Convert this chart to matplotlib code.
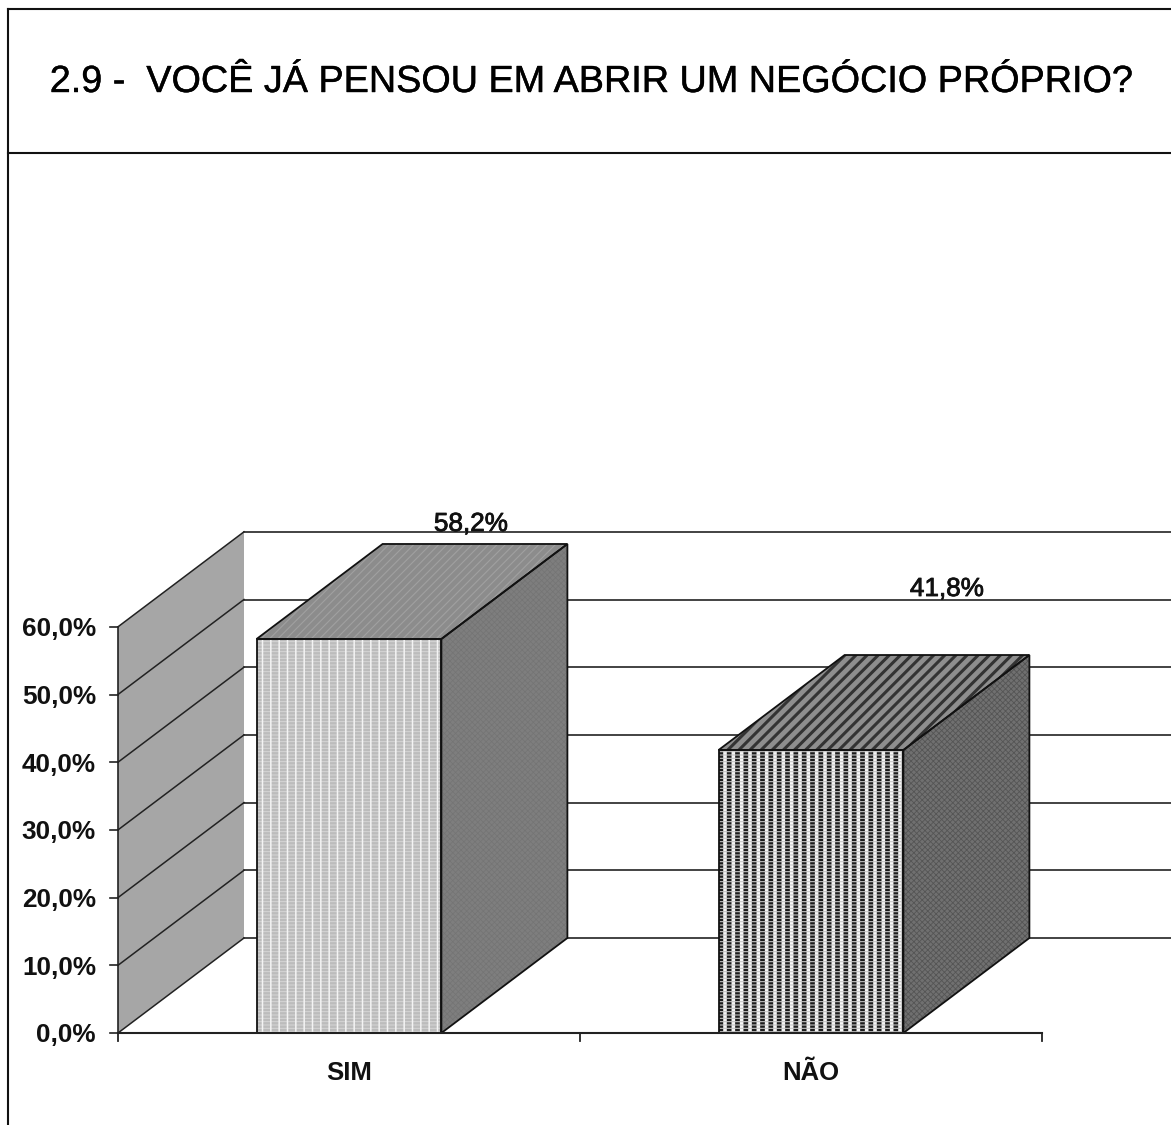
import matplotlib
matplotlib.use("Agg")
import matplotlib.pyplot as plt
import matplotlib.patheffects as pe
from matplotlib.patches import Polygon
from matplotlib.lines import Line2D

plt.rcParams['font.family'] = ['Liberation Sans', 'DejaVu Sans']

TITLE = "2.9 -  VOCÊ JÁ PENSOU EM ABRIR UM NEGÓCIO PRÓPRIO?"
categories = ["SIM", "NÃO"]
values = [58.2, 41.8]
value_labels = ["58,2%", "41,8%"]
y_ticks = [0, 10, 20, 30, 40, 50, 60]
y_tick_labels = ["0,0%", "10,0%", "20,0%", "30,0%", "40,0%", "50,0%", "60,0%"]

W, H = 1171, 1125
PX_CAT = 462.0     # pixels for one category
PX_PCT = 6.77      # pixels for one percent
X0, Y0 = 118, 1033 # pixel position of the chart origin
DX = 126 / PX_CAT  # 3d depth in data units
DY = 95 / PX_PCT
BAR_W = 0.4

fig = plt.figure(figsize=(W / 100, H / 100), dpi=100, facecolor="white")
ax = fig.add_axes([0, 0, 1, 1])
ax.set_xlim(-X0 / PX_CAT, (W - X0) / PX_CAT)
ax.set_ylim((Y0 - H) / PX_PCT, Y0 / PX_PCT)
ax.axis("off")


def face(pts, base, hatches=(), z=3):
    ax.add_patch(Polygon(pts, closed=True, facecolor=base, edgecolor="none", zorder=z))
    for hatch, color, lw in hatches:
        plt.rcParams['hatch.linewidth'] = lw
        ax.add_patch(Polygon(pts, closed=True, facecolor="none", edgecolor=color,
                             hatch=hatch, linewidth=0, zorder=z))
    ax.add_patch(Polygon(pts, closed=True, facecolor="none", edgecolor="#111111",
                         linewidth=1.3, zorder=z + 0.5))


# side wall and grid
top = y_ticks[-1]
ax.add_patch(Polygon([(0, 0), (DX, DY), (DX, top + DY), (0, top)], closed=True,
                     facecolor="#a6a6a6", edgecolor="none", zorder=1))
for t, lab in zip(y_ticks, y_tick_labels):
    ax.plot([0, DX], [t, t + DY], color="#222222", lw=1.1, zorder=2)
    ax.plot([DX, (W - X0) / PX_CAT], [t + DY, t + DY], color="#222222", lw=1.2, zorder=2)
    ax.plot([-8 / PX_CAT, 0], [t, t], color="#222222", lw=1.2, zorder=2)
    ax.text(-22 / PX_CAT, t - 0.35, lab, ha="right", va="center",
            fontsize=18.8, fontweight="bold", color="#111111")
ax.plot([0, 0], [0, top], color="#222222", lw=1.2, zorder=2)

# floor axis
ax.plot([0, len(categories)], [0, 0], color="#222222", lw=1.5, zorder=6)
for i in range(len(categories) + 1):
    ax.plot([i, i], [0, -8 / PX_PCT], color="#222222", lw=1.3, zorder=6)

front_styles = [
    ("#bcbcbc", [("-----", "#d6d6d6", 0.7), ("||", "#f4f4f4", 1.1)]),
    ("#f6f6f6", [("||", "#1c1c1c", 3.4), ("-----", "#c4c4c4", 0.8)]),
]
top_styles = [
    ("#8c8c8c", [("////", "#a0a0a0", 0.8)]),
    ("#8e8e8e", [("///", "#333333", 2.2)]),
]
side_styles = [
    ("#7e7e7e", [("xxxxxx", "#747474", 0.5)]),
    ("#707070", [("xxxxxx", "#555555", 0.6)]),
]

for i, v in enumerate(values):
    l, r = i + 0.5 - BAR_W / 2, i + 0.5 + BAR_W / 2
    face([(l, 0), (r, 0), (r, v), (l, v)], *front_styles[i], z=4)
    face([(r, 0), (r + DX, DY), (r + DX, v + DY), (r, v)], *side_styles[i], z=4)
    face([(l, v), (r, v), (r + DX, v + DY), (l + DX, v + DY)], *top_styles[i], z=4)
    ax.text(i + 0.5, -39.5 / PX_PCT, categories[i], ha="center", va="center",
            fontsize=18.5, fontweight="bold", color="#111111")

# value labels sit above the back edge of each bar
label_offsets = [(0.764, 15.95), (1.794, 22.75)]
for (lx, off), v, s in zip(label_offsets, values, value_labels):
    ax.text(lx, v + off, s, ha="center", va="baseline", fontsize=18.8, color="#111111",
            zorder=7, path_effects=[pe.withStroke(linewidth=0.6, foreground="#111111")])

# title box, drawn in pixels
def px_line(xs, ys, lw=1.5):
    fig.add_artist(Line2D([x / W for x in xs], [1 - y / H for y in ys], color="#111111", lw=lw))


px_line([8, W], [9, 9])
px_line([8, W], [153, 153])
px_line([8, 8], [9, H])
fig.text(590.5 / W, 1 - 82 / H, TITLE, ha="center", va="center", fontsize=27.2, color="black",
         path_effects=[pe.withStroke(linewidth=0.3, foreground="black")])

fig.savefig("out.png", dpi=100)
